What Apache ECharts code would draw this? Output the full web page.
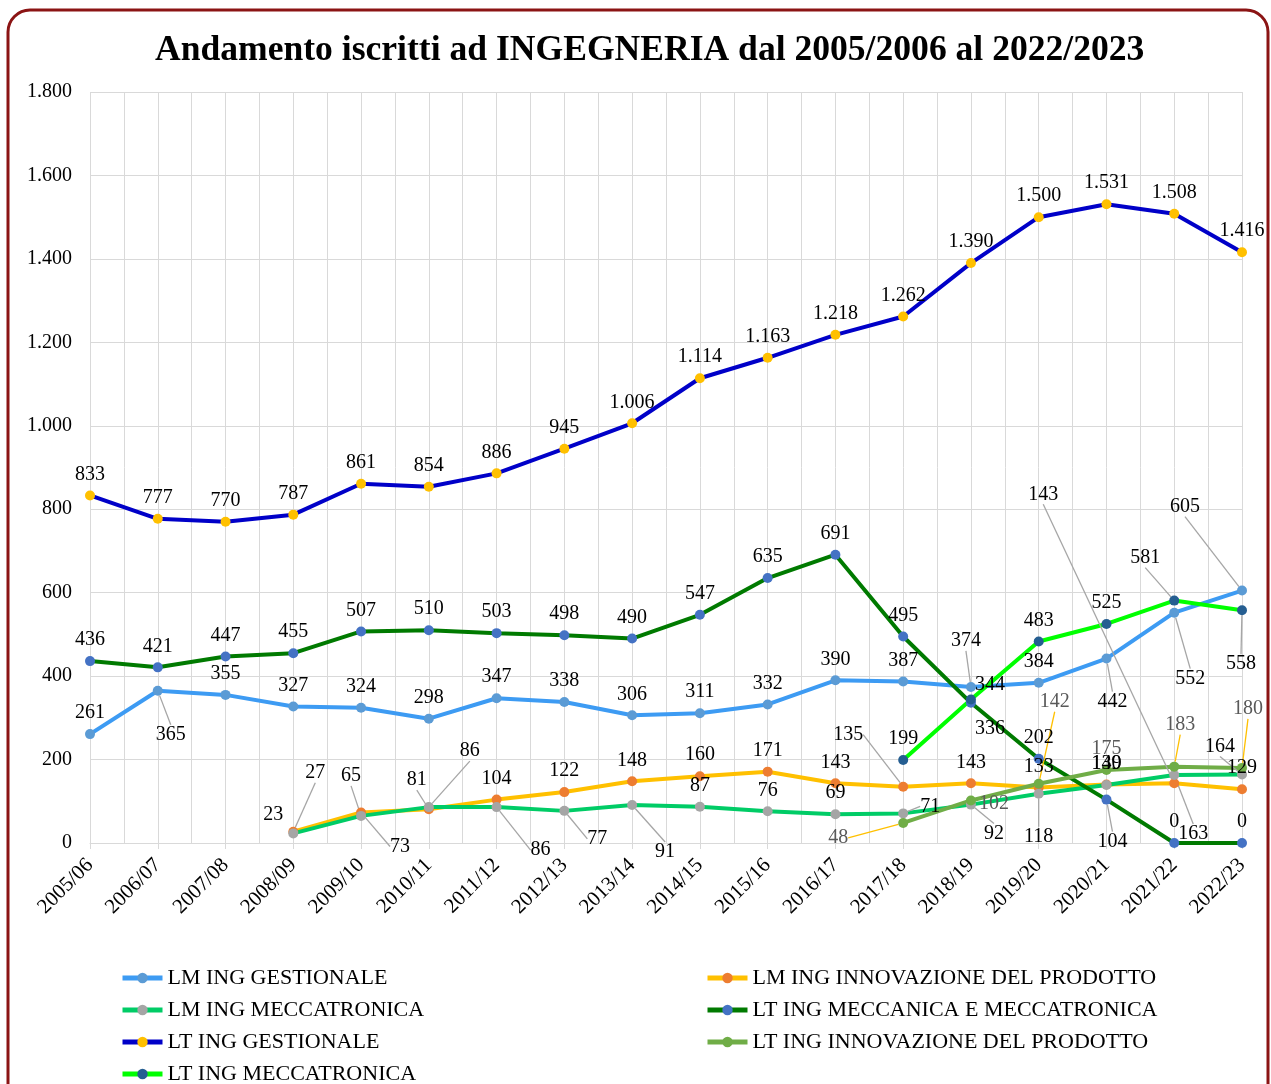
<!DOCTYPE html>
<html>
<head>
<meta charset="utf-8">
<script src="https://cdn.jsdelivr.net/npm/echarts@6/dist/echarts.min.js"></script>
<style>
html, body { margin: 0; padding: 0; background: #fff; }
#main { width: 1271px; height: 1084px; }
</style>
</head>
<body>
<div id="main"></div>
<script>
// anni accademici
var anni = ['2005/06', '2006/07', '2007/08', '2008/09', '2009/10', '2010/11', '2011/12', '2012/13', '2013/14',
  '2014/15', '2015/16', '2016/17', '2017/18', '2018/19', '2019/20', '2020/21', '2021/22', '2022/23'];

// iscritti per corso
var lmGestionale   = [261, 365, 355, 327, 324, 298, 347, 338, 306, 311, 332, 390, 387, 374, 384, 442, 552, 605];
var lmInnovazione  = [null, null, null, 27, 73, 81, 104, 122, 148, 160, 171, 143, 135, 143, 133, 140, 143, 129];
var lmMeccatronica = [null, null, null, 23, 65, 86, 86, 77, 91, 87, 76, 69, 71, 92, 118, 139, 163, 164];
var ltMeccanica    = [436, 421, 447, 455, 507, 510, 503, 498, 490, 547, 635, 691, 495, 336, 202, 104, 0, 0];
var ltGestionale   = [833, 777, 770, 787, 861, 854, 886, 945, 1006, 1114, 1163, 1218, 1262, 1390, 1500, 1531, 1508, 1416];
var ltInnovazione  = [null, null, null, null, null, null, null, null, null, null, null, null, 48, 102, 142, 175, 183, 180];
var ltMeccatronica = [null, null, null, null, null, null, null, null, null, null, null, null, 199, 344, 483, 525, 581, 558];

// spostamento etichette [dx, dy, linea guida]
var spostLmGest = { 1: [13, 65, 1], 13: [-5, -25, 1], 15: [6, 64, 1], 16: [16, 87, 1], 17: [-57, -63, 1] };
var spostLmInn = { 3: [22, -38, 1], 4: [39, 55, 1], 5: [-12, -8, 1], 12: [-55, -31, 1], 16: [-131, -268, 1] };
var spostLmMecc = { 3: [-20, 2, 0], 4: [-10, -19, 1], 5: [41, -35, 1], 6: [44, 64, 1], 7: [33, 49, 1], 8: [33, 68, 1],
  12: [27, 14, 1], 13: [23, 50, 1], 14: [0, 64, 1], 16: [19, 80, 1], 17: [-22, -7, 1] };
var spostLtMecc = { 13: [19, 47, 0], 15: [6, 63, 1] };
var spostLtGest = {};
var spostLtInn = { 12: [-65, 36, 1], 13: [23, 24, 0], 14: [16, -61, 1], 16: [6, -21, 1], 17: [6, -38, 1] };
var spostLtMeccatr = { 13: [19, 6, 0], 16: [-29, -22, 1], 17: [-1, 75, 1] };

function fmt(v) {
  return String(v).replace(/\B(?=(\d{3})+(?!\d))/g, '.');
}

function punti(valori, spost) {
  return valori.map(function (v, i) {
    var s = spost[i];
    return { value: v, labelLine: { show: !!(s && s[2]) } };
  });
}

var font = 'Liberation Serif';

function serie(nome, valori, spost, linea, marker, coloreTesto, coloreGuida) {
  return {
    name: nome,
    type: 'line',
    data: punti(valori, spost),
    symbol: 'circle',
    symbolSize: 10,
    lineStyle: { color: linea, width: 4 },
    itemStyle: { color: marker },
    label: {
      show: true,
      position: 'top',
      distance: 6,
      fontFamily: font,
      fontSize: 20,
      color: coloreTesto,
      formatter: function (p) { return fmt(p.value); }
    },
    labelLine: { show: false, lineStyle: { color: coloreGuida, width: 1.3 } },
    labelLayout: function (p) {
      var s = spost[p.dataIndex];
      return s ? { dx: s[0], dy: s[1] } : {};
    }
  };
}

var legenda = {
  orient: 'vertical',
  top: 967,
  height: 200,
  padding: 0,
  itemWidth: 40,
  itemHeight: 13,
  itemGap: 10,
  lineStyle: { width: 5 },
  textStyle: { fontFamily: font, fontSize: 22, color: '#000' }
};

var myChart = echarts.init(document.getElementById('main'));

var option = {
  animation: false,
  backgroundColor: '#fff',
  graphic: [{
    type: 'rect',
    shape: { x: 8, y: 10, width: 1260, height: 1200, r: 22 },
    style: { fill: 'none', stroke: '#8B1414', lineWidth: 3 }
  }],
  title: {
    text: 'Andamento iscritti ad INGEGNERIA dal 2005/2006 al 2022/2023',
    left: 150,
    top: 28,
    textStyle: { fontFamily: font, fontSize: 35.6, fontWeight: 'bold', color: '#000' }
  },
  legend: [
    Object.assign({}, legenda, {
      left: 120,
      data: ['LM ING GESTIONALE', 'LM ING MECCATRONICA', 'LT ING GESTIONALE', 'LT ING MECCATRONICA']
    }),
    Object.assign({}, legenda, {
      left: 705,
      data: ['LM ING INNOVAZIONE DEL PRODOTTO', 'LT ING MECCANICA E MECCATRONICA', 'LT ING INNOVAZIONE DEL PRODOTTO']
    })
  ],
  grid: { left: 90, right: 29, top: 92, bottom: 241 },
  xAxis: [{
    type: 'category',
    boundaryGap: false,
    data: anni,
    axisLine: { lineStyle: { color: '#D9D9D9', width: 1 } },
    axisTick: { show: true, length: 6, lineStyle: { color: '#D9D9D9' } },
    splitLine: { show: false },
    axisLabel: { rotate: 45, margin: 19, fontFamily: font, fontSize: 21, color: '#000' }
  }, {
    type: 'value',
    min: 0,
    max: 17,
    interval: 0.5,
    position: 'bottom',
    axisLine: { show: false },
    axisTick: { show: false },
    axisLabel: { show: false },
    splitLine: { show: true, lineStyle: { color: '#D9D9D9', width: 1 } }
  }],
  yAxis: {
    type: 'value',
    min: 0,
    max: 1800,
    interval: 200,
    axisLine: { show: false },
    axisTick: { show: false },
    splitLine: { lineStyle: { color: '#D9D9D9', width: 1 } },
    axisLabel: { margin: 18, fontFamily: font, fontSize: 20, color: '#000', formatter: fmt }
  },
  series: [
    serie('LM ING GESTIONALE', lmGestionale, spostLmGest, '#3D9BF3', '#5B9BD5', '#000', '#A6A6A6'),
    serie('LM ING INNOVAZIONE DEL PRODOTTO', lmInnovazione, spostLmInn, '#FFC000', '#ED7D31', '#000', '#A6A6A6'),
    serie('LM ING MECCATRONICA', lmMeccatronica, spostLmMecc, '#00CC66', '#A5A5A5', '#000', '#A6A6A6'),
    serie('LT ING MECCANICA E MECCATRONICA', ltMeccanica, spostLtMecc, '#007A00', '#4472C4', '#000', '#A6A6A6'),
    serie('LT ING GESTIONALE', ltGestionale, spostLtGest, '#0000C8', '#FFC000', '#000', '#A6A6A6'),
    serie('LT ING INNOVAZIONE DEL PRODOTTO', ltInnovazione, spostLtInn, '#70AD47', '#70AD47', '#595959', '#FFC000'),
    serie('LT ING MECCATRONICA', ltMeccatronica, spostLtMeccatr, '#00FF00', '#255E91', '#000', '#A6A6A6')
  ]
};

myChart.setOption(option);
</script>
</body>
</html>
